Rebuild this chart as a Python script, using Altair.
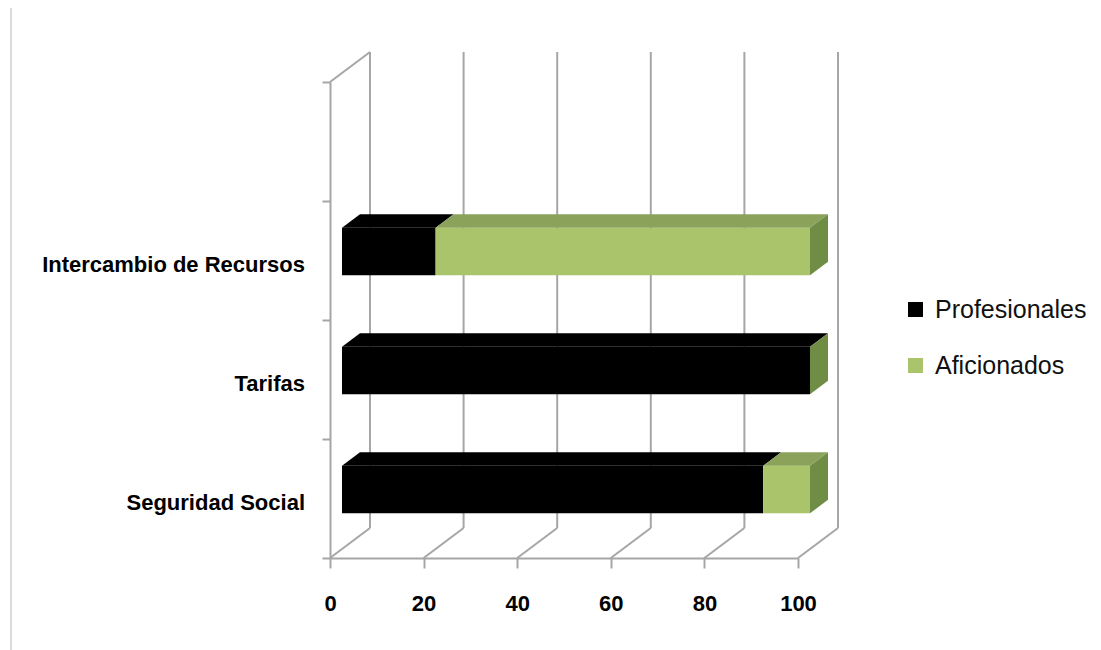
import altair as alt
import pandas as pd

# ---- data ----
categories = ["Seguridad Social", "Tarifas", "Intercambio de Recursos"]  # bottom to top
series = ["Profesionales", "Aficionados"]
profesionales = [90, 100, 20]
aficionados = [10, 0, 80]
x_ticks = [0, 20, 40, 60, 80, 100]
n_slots = 4  # one empty slot at the top

# ---- styling ----
W, H = 468, 476
PX = 100 / W           # data units per pixel (x)
PY = n_slots / H       # data units per pixel (y)
DEPTH = (40, 30)       # full depth of the 3-D box in pixels (right, up)
FRONT_F, BACK_F = 0.3, 0.75
HALF = 0.2             # half bar height in slot units
front_col = {"Profesionales": "#000000", "Aficionados": "#A9C46A"}
top_col = {"Profesionales": "#000000", "Aficionados": "#8BA25A"}
side_col = "#6F8D45"
grid_col = "#A6A6A6"
BOLD = "Liberation Sans, Arial, sans-serif"
REG = "Liberation Sans, Arial, sans-serif"

DX, DY = DEPTH[0] * PX, DEPTH[1] * PY
fx, fy = FRONT_F * DX, FRONT_F * DY
bx, by = BACK_F * DX, BACK_F * DY

# ---- build tables ----
fronts, tops, sides = [], [], []
for i, cat in enumerate(categories):
    c = i + 0.5
    start = 0
    vals = {"Profesionales": profesionales[i], "Aficionados": aficionados[i]}
    for s in series:
        a, b = start, start + vals[s]
        start = b
        fronts.append({"cat": cat, "serie": s, "x": a + fx, "x2": b + fx,
                       "y": c - HALF + fy, "y2": c + HALF + fy})
        if b > a:
            fid = f"{cat}-{s}"
            tops.append({"face": fid, "serie": s, "y": c + HALF + fy, "x": a + fx, "x2": b + fx})
            tops.append({"face": fid, "serie": s, "y": c + HALF + by, "x": a + bx, "x2": b + bx})
    T = start
    sides.append({"face": cat, "x": T + fx, "y": c - HALF + fy, "y2": c + HALF + fy})
    sides.append({"face": cat, "x": T + bx, "y": c - HALF + by, "y2": c + HALF + by})

grid = []
for v in x_ticks:
    grid.append({"x": v + DX, "y": DY, "x2": v + DX, "y2": n_slots + DY})   # back wall
    grid.append({"x": v, "y": 0, "x2": v + DX, "y2": DY})                   # floor slants
grid.append({"x": 0, "y": n_slots, "x2": DX, "y2": n_slots + DY})           # top-left slant

labels = pd.DataFrame({"cat": categories, "y": [i + 0.5 for i in range(len(categories))], "x": [0] * len(categories)})
tops_df = pd.DataFrame(tops)
sides_df = pd.DataFrame(sides)

xs = alt.Scale(domain=[0, 100], nice=False, zero=False)
ys = alt.Scale(domain=[0, n_slots], nice=False, zero=False)
x_axis = alt.Axis(values=x_ticks, tickSize=10, labelPadding=25, labelFont=BOLD,
                  labelFontSize=22, labelFontWeight="bold", labelColor="#000000",
                  grid=False, domainColor=grid_col, tickColor=grid_col,
                  domainWidth=2, tickWidth=2, labelFlush=False, title=None)
y_axis = alt.Axis(values=list(range(n_slots + 1)), tickSize=8, labels=False,
                  grid=False, domainColor=grid_col, tickColor=grid_col,
                  domainWidth=2, tickWidth=2, title=None)

def X(f, **kw):
    return alt.X(f, scale=xs, title=None, axis=x_axis, **kw)

def Y(f, **kw):
    return alt.Y(f, scale=ys, title=None, axis=y_axis, **kw)

grid_layer = alt.Chart(pd.DataFrame(grid)).mark_rule(color=grid_col, strokeWidth=2).encode(
    x=X("x:Q"), y=Y("y:Q"), x2="x2:Q", y2="y2:Q",
)

front_layer = alt.Chart(pd.DataFrame(fronts)).mark_rect().encode(
    x=X("x:Q", stack=None), x2="x2:Q",
    y=Y("y:Q", stack=None), y2="y2:Q",
    color=alt.Color("serie:N", scale=alt.Scale(domain=series, range=[front_col[s] for s in series]),
                    legend=alt.Legend(title=None, orient="none", legendX=573, legendY=215,
                                      symbolType="square", symbolSize=225, symbolStrokeWidth=0,
                                      labelFont=REG, labelFontSize=25, labelColor="#111111",
                                      rowPadding=30, labelOffset=7, padding=0)),
)

top_layers = []
for s in series:
    sub = tops_df[tops_df["serie"] == s]
    if len(sub):
        top_layers.append(
            alt.Chart(sub).mark_area(orient="horizontal", color=top_col[s], opacity=1).encode(
                y=Y("y:Q"), x=X("x:Q"), x2="x2:Q", detail="face:N",
            )
        )

side_layer = alt.Chart(sides_df).mark_area(orient="vertical", color=side_col, opacity=1).encode(
    x=X("x:Q"), y=Y("y:Q"), y2="y2:Q", detail="face:N",
)

label_layer = alt.Chart(labels).mark_text(align="right", baseline="middle", dx=-25, dy=4,
                                          font=BOLD, fontSize=22, fontWeight="bold",
                                          color="#000000").encode(
    x=X("x:Q"), y=Y("y:Q"), text="cat:N",
)

border = alt.Chart(pd.DataFrame({"k": [0]})).mark_rule(color="#CFCFCF", strokeWidth=1.5).encode(
    x=alt.value(-319), y=alt.value(-74), y2=alt.value(568),
)

chart = alt.layer(grid_layer, front_layer, *top_layers, side_layer, label_layer, border).properties(
    width=W, height=H,
    autosize=alt.AutoSizeParams(type="none"),
    padding={"left": 330, "top": 82, "right": 1101 - 330 - W, "bottom": 650 - 82 - H},
    background="#FFFFFF",
).configure_view(stroke=None)

chart.save("out.html", embed_options={"renderer": "svg", "actions": False})
